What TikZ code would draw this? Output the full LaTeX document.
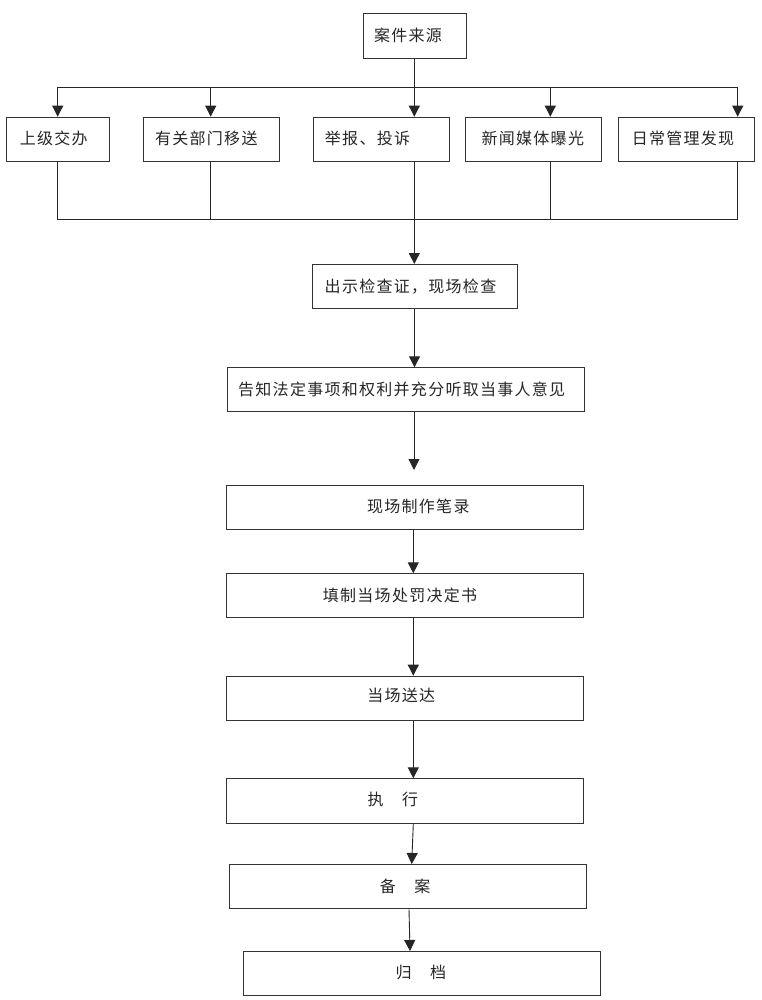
\documentclass[tikz,border=0pt]{standalone}
\usepackage{fontspec}
\usetikzlibrary{arrows.meta}
\newfontfamily\cjk[LetterSpace=8]{Noto Sans CJK SC}
\begin{document}
\begin{tikzpicture}[x=1pt,y=-1pt,
  line width=0.9pt, draw=black!80,
  box/.style={draw=black!80, line width=1pt, rectangle, inner sep=0pt, anchor=north west},
  lbl/.style={inner sep=0pt, font=\cjk\fontsize{16}{16}\selectfont, text=black!85},
  arr/.style={draw=black!85, -{Triangle[length=11pt,width=11pt]}},
  ln/.style={draw=black!85}]
\useasboundingbox (0,0) rectangle (761,1000);
% top
\node[box, minimum width=102.4pt, minimum height=44.4pt] (src) at (363.3,13.3) {};
\node[lbl] (tsrc) at (408,35.7) {案件来源};
% row
\node[box, minimum width=102.7pt, minimum height=44.3pt] (b1) at (6.3,116.7) {};
\node[box, minimum width=136pt, minimum height=44.3pt] (b2) at (142.7,116.7) {};
\node[box, minimum width=136.3pt, minimum height=44.3pt] (b3) at (312.7,116.7) {};
\node[box, minimum width=135.7pt, minimum height=44.3pt] (b4) at (465.3,116.7) {};
\node[box, minimum width=136pt, minimum height=44.3pt] (b5) at (618,116.7) {};
\node[lbl] (t1) at (53.8,138.5) {上级交办};
\node[lbl] (t2) at (206.3,138.5) {有关部门移送};
\node[lbl] (t3) at (367.5,138.5) {举报、投诉};
\node[lbl] (t4) at (532.8,138.5) {新闻媒体曝光};
\node[lbl] (t5) at (683,138.5) {日常管理发现};
% connectors top
\coordinate (hsplit) at (414.3,87.3);
\coordinate (hL) at (57.7,87.3);
\coordinate (hR) at (737.7,87.3);
\draw[ln] (src.south -| hsplit) -- (hsplit);
\draw[ln] (hL) -- (hR);
\draw[arr] (hL) -- (hL |- b1.north);
\draw[arr] (210.7,87.3) coordinate (h2) -- (h2 |- b2.north);
\draw[arr] (hsplit) -- (hsplit |- b3.north);
\draw[arr] (550.3,87.3) coordinate (h4) -- (h4 |- b4.north);
\draw[arr] (hR) -- (hR |- b5.north);
% merge
\coordinate (mL) at (57.7,219.7);
\coordinate (mR) at (737.7,219.7);
\coordinate (mC) at (414.3,219.7);
\draw[ln] (b1.south -| mL) -- (mL) -- (mR) -- (b5.south -| mR);
\draw[ln] (b2.south -| h2) -- (h2 |- mL);
\draw[ln] (b3.south -| mC) -- (mC);
\draw[ln] (b4.south -| h4) -- (h4 |- mL);
% main chain
\node[box, minimum width=204.4pt, minimum height=44.3pt] (s1) at (312.3,264) {};
\node[lbl] (ts1) at (410.5,286.7) {出示检查证，现场检查};
\draw[arr] (mC) -- (mC |- s1.north);
\node[box, minimum width=357pt, minimum height=43.7pt] (s2) at (227.3,367.3) {};
\node[lbl] (ts2) at (401.7,389.3) {告知法定事项和权利并充分听取当事人意见};
\draw[arr] (s1.south -| 414.5,0) -- (s2.north -| 414.5,0);
\node[box, minimum width=357pt, minimum height=44.3pt] (s3) at (226.3,485) {};
\node[lbl] (ts3) at (418.3,506.7) {现场制作笔录};
\coordinate (gapend) at (414,470);
\draw[arr] (s2.south -| gapend) -- (gapend);
\node[box, minimum width=357pt, minimum height=44pt] (s4) at (226.3,573.3) {};
\node[lbl] (ts4) at (400,595) {填制当场处罚决定书};
\draw[arr] (s3.south -| 413.3,0) -- (s4.north -| 413.3,0);
\node[box, minimum width=357pt, minimum height=44.3pt] (s5) at (226.3,675.7) {};
\node[lbl] (ts5) at (401.3,695.5) {当场送达};
\draw[arr] (s4.south -| 413.3,0) -- (s5.north -| 413.3,0);
\node[box, minimum width=357pt, minimum height=44.7pt] (s6) at (226.3,778.3) {};
\node[lbl] (ts6) at (392.8,799.5) {执　行};
\draw[arr] (s5.south -| 413.3,0) -- (s6.north -| 413.3,0);
\node[box, minimum width=357pt, minimum height=44.3pt] (s7) at (228.7,864) {};
\node[lbl] (ts7) at (405.2,886.2) {备　案};
\draw[arr] (s6.south -| 413.3,0) -- (s7.north -| 411.7,0);
\node[box, minimum width=356.7pt, minimum height=44pt] (s8) at (243.3,951) {};
\node[lbl] (ts8) at (420.8,972.5) {归　档};
\draw[arr] (s7.south -| 409,0) -- (s8.north -| 410,0);
\end{tikzpicture}
\end{document}
